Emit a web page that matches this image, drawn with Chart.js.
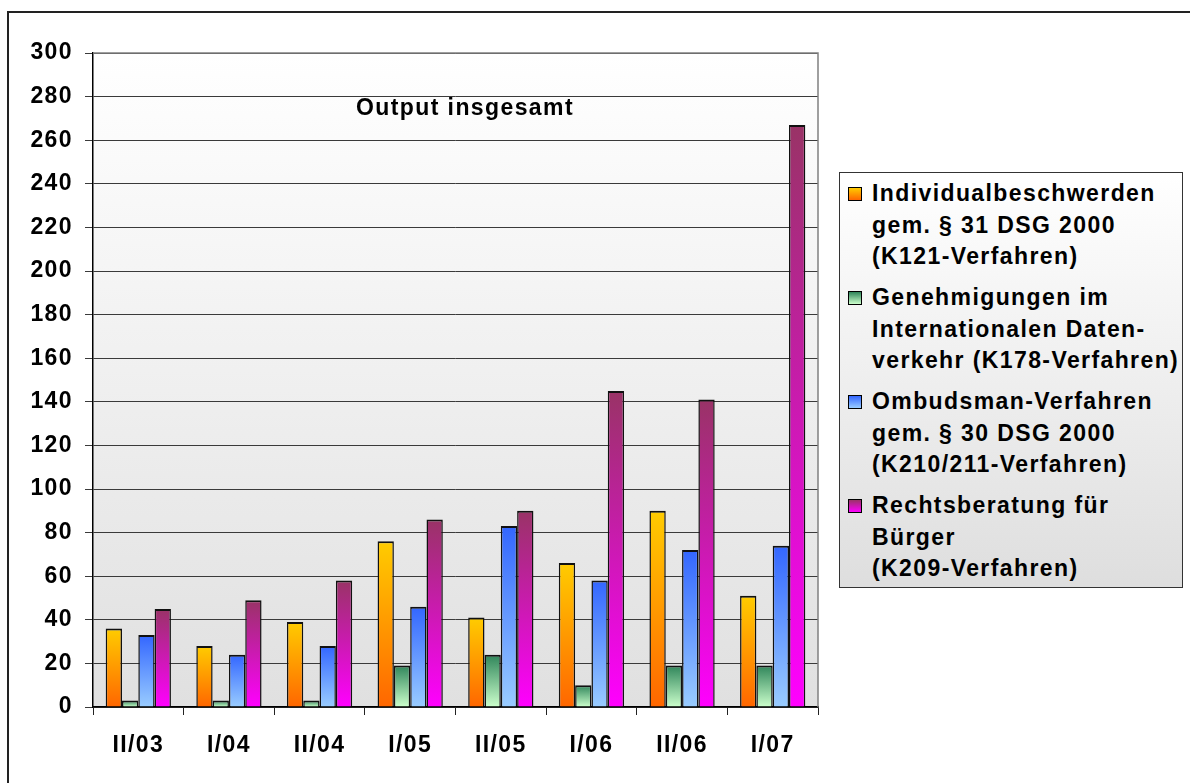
<!DOCTYPE html>
<html>
<head>
<meta charset="utf-8">
<script src="https://cdn.jsdelivr.net/npm/chart.js@4.4.1/dist/chart.umd.min.js"></script>
<style>
  html, body { margin: 0; padding: 0; background: #fff; overflow: hidden; }
  #wrap { position: relative; width: 1190px; height: 783px; }
  #frame { position: absolute; left: 7px; top: 11px; width: 1300px; height: 900px; border: 2px solid #222; }
  #chart { position: absolute; left: 0; top: 0; }
  #legend {
    position: absolute; left: 839px; top: 172px; width: 344px; height: 416px;
    border: 1px solid #333; background: linear-gradient(#ffffff, #dedede);
    font-family: "Liberation Sans", Arial, sans-serif; font-weight: bold;
    font-size: 23px; letter-spacing: 1.4px; color: #000; box-sizing: border-box;
    padding-top: 5px;
  }
  .item { position: relative; padding-left: 32px; margin-bottom: 9.5px; }
  .line { height: 31.5px; line-height: 31.5px; white-space: nowrap; }
  .mark { position: absolute; left: 8px; top: 9px; width: 12px; height: 12px; border: 1px solid #000; }
</style>
</head>
<body>
<div id="wrap">
  <div id="frame"></div>
  <canvas id="chart" width="1190" height="783"></canvas>
  <div id="legend"></div>
</div>
<script>
const categories = ['II/03', 'I/04', 'II/04', 'I/05', 'II/05', 'I/06', 'II/06', 'I/07'];
const individualbeschwerden = [36, 28, 39, 76, 41, 66, 90, 51];
const genehmigungen = [3, 3, 3, 19, 24, 10, 19, 19];
const ombudsman = [33, 24, 28, 46, 83, 58, 72, 74];
const rechtsberatung = [45, 49, 58, 86, 90, 145, 141, 267];
const seriesLabels = [
  ['Individualbeschwerden', 'gem. § 31 DSG 2000', '(K121-Verfahren)'],
  ['Genehmigungen im', 'Internationalen Daten-', 'verkehr (K178-Verfahren)'],
  ['Ombudsman-Verfahren', 'gem. § 30 DSG 2000', '(K210/211-Verfahren)'],
  ['Rechtsberatung für', 'Bürger', '(K209-Verfahren)']
];
const chartTitle = 'Output insgesamt';

// top colour, bottom colour of each bar gradient
const gradColors = [
  ['#ffcc00', '#ff6600'],
  ['#2f855a', '#ccffcc'],
  ['#3366ff', '#99ccff'],
  ['#993366', '#ff00ff']
];

const FONT = '"Liberation Sans", Arial, sans-serif';

function barGradient(i) {
  return function (c) {
    const chart = c.chart;
    if (!chart.chartArea || c.raw === undefined) return gradColors[i][1];
    const y = chart.scales.y;
    const top = y.getPixelForValue(c.raw);
    const bottom = y.getPixelForValue(0);
    const g = chart.ctx.createLinearGradient(0, top, 0, Math.max(bottom, top + 1));
    g.addColorStop(0, gradColors[i][0]);
    g.addColorStop(1, gradColors[i][1]);
    return g;
  };
}

const seriesData = [individualbeschwerden, genehmigungen, ombudsman, rechtsberatung];

const plotDeco = {
  id: 'plotDeco',
  beforeDraw(chart) {
    const { ctx, chartArea: a } = chart;
    ctx.letterSpacing = '1.4px';
    const g = ctx.createLinearGradient(0, a.top, 0, a.bottom);
    g.addColorStop(0, '#ffffff');
    g.addColorStop(1, '#e0e0e0');
    ctx.save();
    ctx.fillStyle = g;
    ctx.fillRect(a.left, a.top, a.right - a.left, a.bottom - a.top);
    ctx.restore();
  },
  beforeDatasetsDraw(chart) {
    const { ctx, chartArea: a } = chart;
    ctx.save();
    ctx.strokeStyle = '#808080';
    ctx.lineWidth = 1.5;
    ctx.beginPath();
    ctx.moveTo(a.left, a.top);
    ctx.lineTo(a.right, a.top);
    ctx.lineTo(a.right, a.bottom);
    ctx.stroke();
    ctx.restore();
  },
  afterDatasetsDraw(chart) {
    const ctx = chart.ctx;
    ctx.save();
    ctx.letterSpacing = '1.4px';
    ctx.font = 'bold 23px ' + FONT;
    ctx.fillStyle = '#000';
    ctx.textAlign = 'center';
    ctx.textBaseline = 'middle';
    ctx.fillText(chartTitle, 465, 109);
    ctx.restore();
  }
};

const chart = new Chart(document.getElementById('chart'), {
  type: 'bar',
  data: {
    labels: categories,
    datasets: seriesData.map((d, i) => ({
      label: seriesLabels[i].join(' '),
      data: d,
      backgroundColor: barGradient(i),
      borderColor: '#111',
      borderWidth: { top: 2, left: 1.5, right: 1.5, bottom: 0 },
      categoryPercentage: 0.72,
      barPercentage: 1.0
    }))
  },
  options: {
    responsive: false,
    animation: false,
    layout: { padding: { left: 0, top: 53, right: 372, bottom: 0 } },
    plugins: {
      legend: { display: false },
      tooltip: { enabled: false }
    },
    scales: {
      x: {
        afterFit(s) { s.height = 76; },
        grid: { drawOnChartArea: false, tickLength: 8, color: '#222' },
        border: { color: '#000', width: 1.5 },
        ticks: { color: '#000', font: { family: FONT, size: 23, weight: 'bold' }, padding: 17, maxRotation: 0 }
      },
      y: {
        min: 0,
        max: 300,
        afterFit(s) { s.width = 93; },
        grid: { color: '#3a3a3a', lineWidth: 1, tickLength: 8 },
        border: { color: '#000', width: 1.5 },
        ticks: { stepSize: 20, color: '#000', font: { family: FONT, size: 23, weight: 'bold' }, padding: 12 }
      }
    }
  },
  plugins: [plotDeco]
});

// legend, built from the chart's datasets
const legendEl = document.getElementById('legend');
chart.data.datasets.forEach((ds, i) => {
  const item = document.createElement('div');
  item.className = 'item';
  const mark = document.createElement('div');
  mark.className = 'mark';
  mark.style.background = 'linear-gradient(' + gradColors[i][0] + ', ' + gradColors[i][1] + ')';
  item.appendChild(mark);
  seriesLabels[i].forEach(t => {
    const ln = document.createElement('div');
    ln.className = 'line';
    ln.textContent = t;
    item.appendChild(ln);
  });
  legendEl.appendChild(item);
});
</script>
</body>
</html>
